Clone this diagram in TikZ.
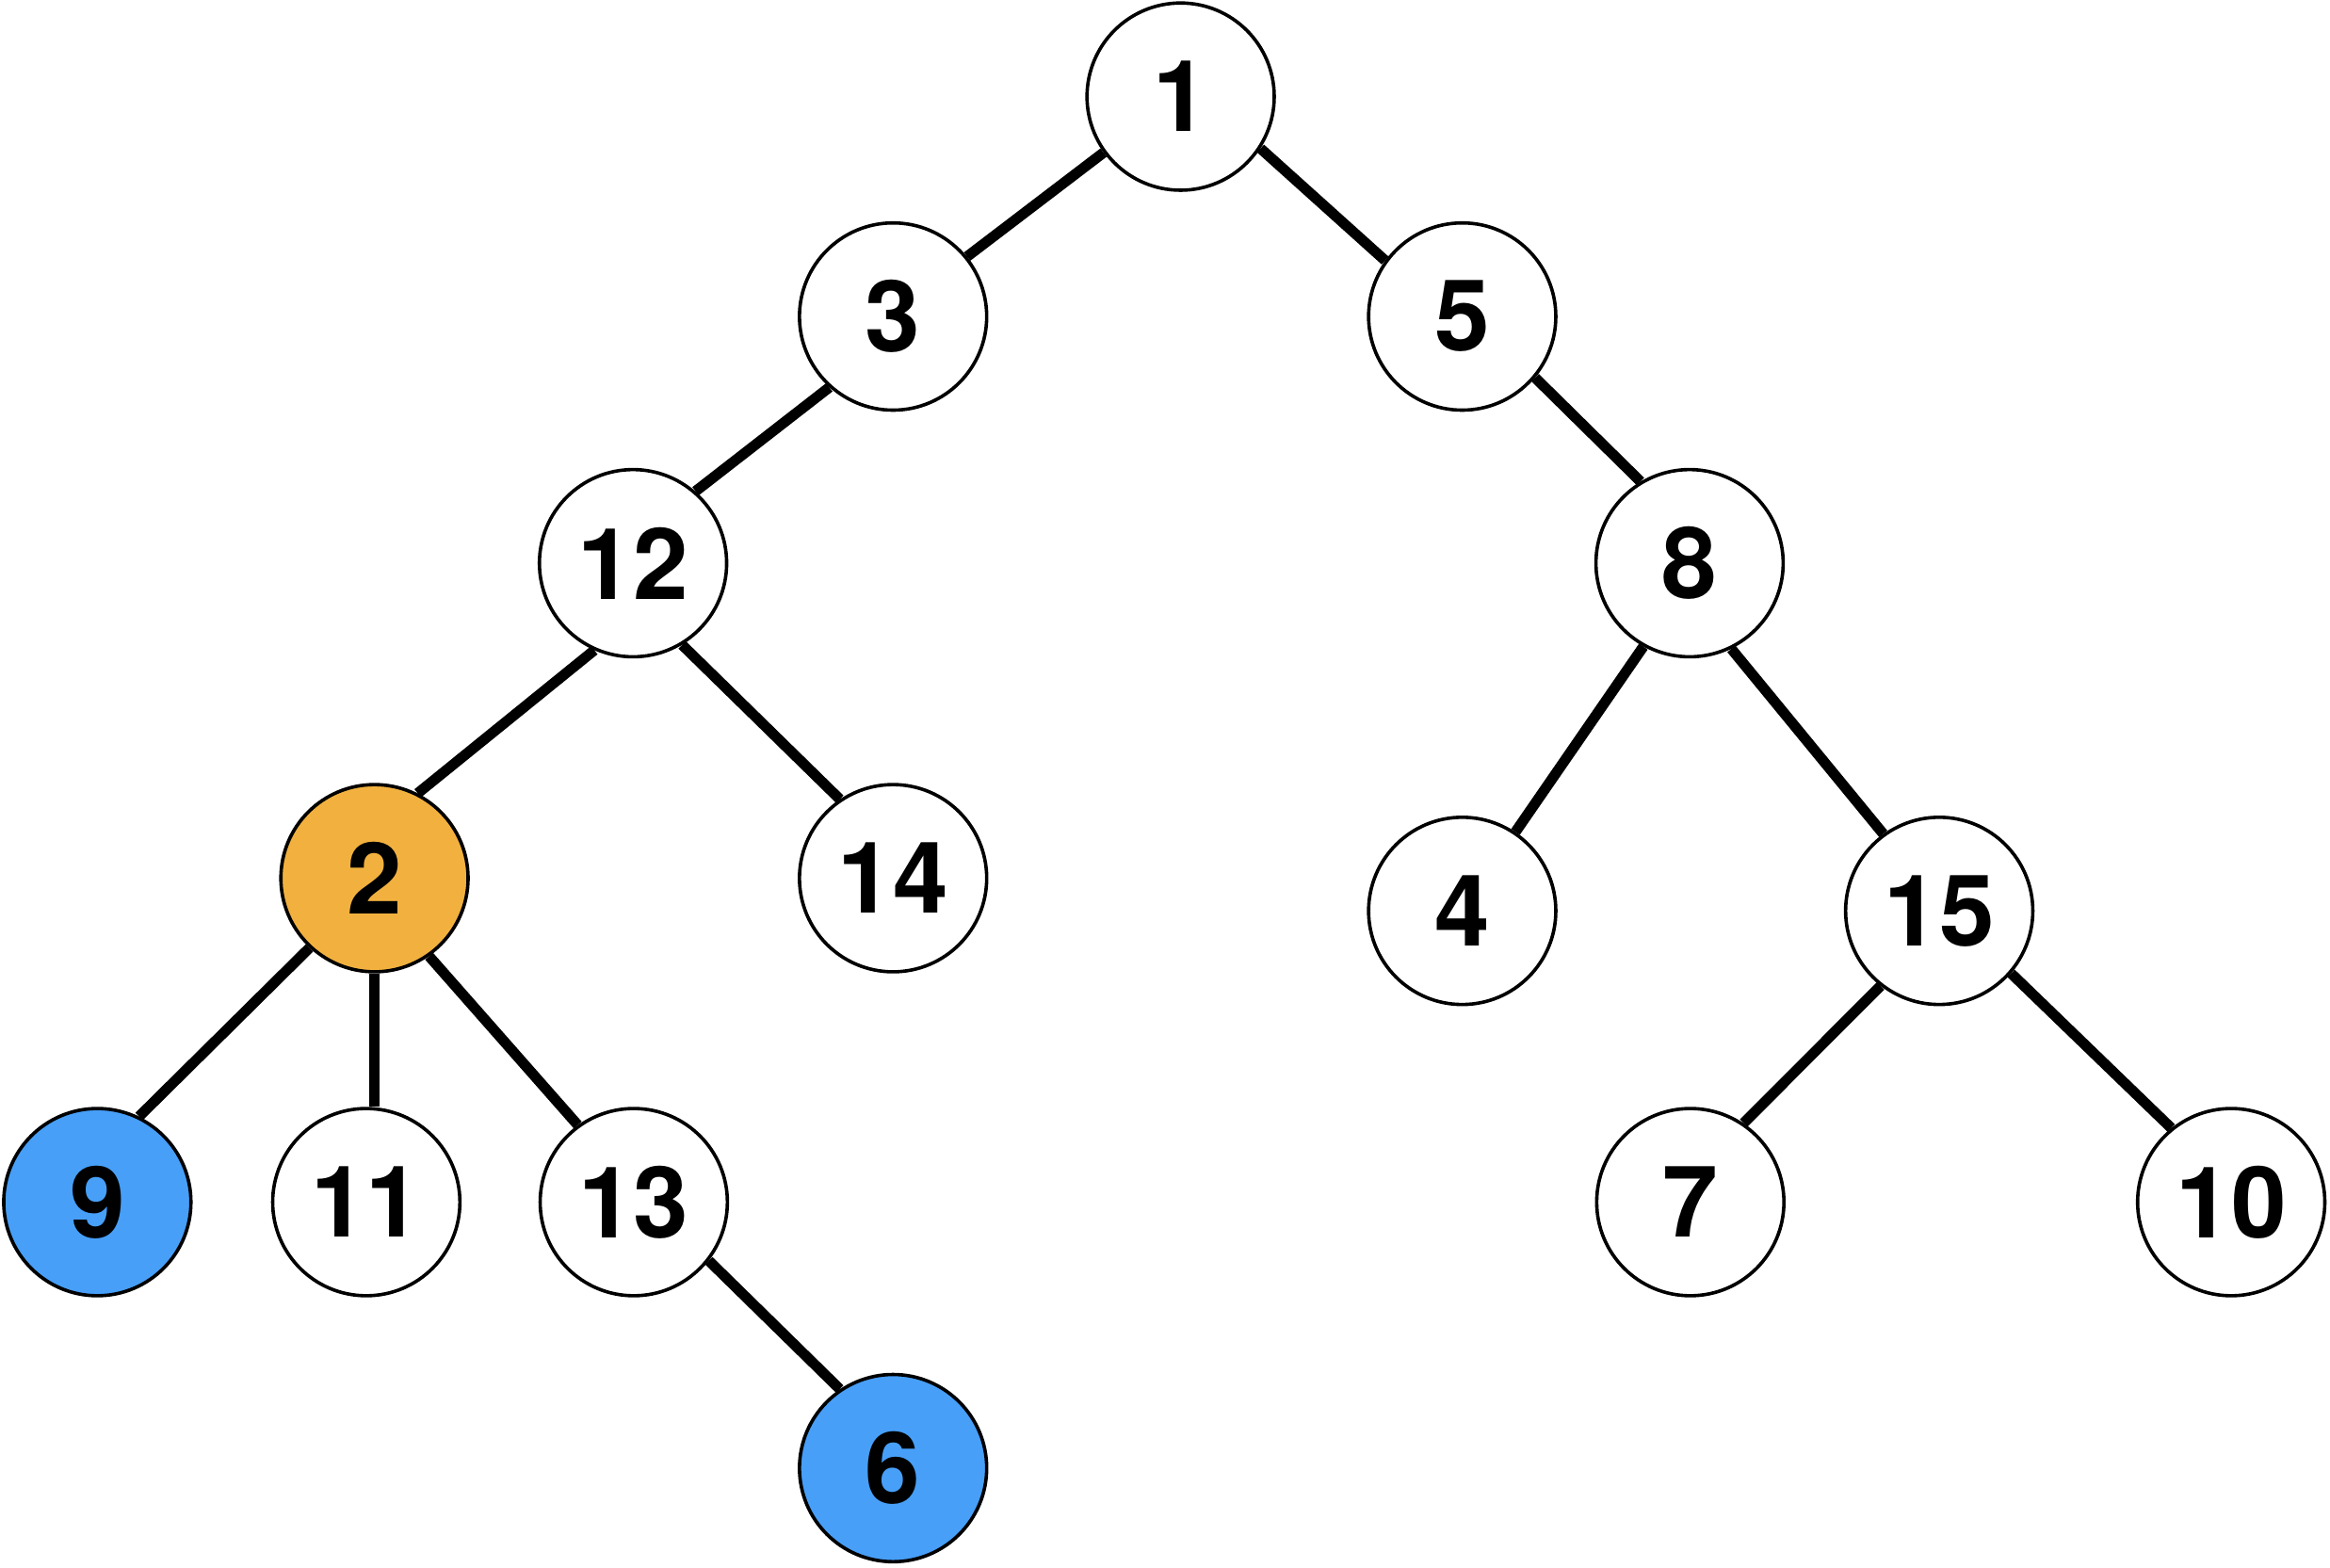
\documentclass[tikz,border=0pt]{standalone}
\usepackage{fontspec}
\setmainfont{TeX Gyre Heros}
\usetikzlibrary{positioning}
\definecolor{hlorange}{HTML}{F2B13F}
\definecolor{hlblue}{HTML}{479FF8}

\begin{document}
\begin{tikzpicture}[x=1cm, y=1cm]
		\tikzset{
			vtx/.style={circle, draw=black, line width=0.65pt, fill=white, minimum size=1.26cm, inner sep=0pt, font=\fontsize{19}{19}\selectfont\bfseries},
			link/.style={line width=2pt},
		}
		\useasboundingbox (0,0) rectangle (15.68,-10.55);
		
		\node[vtx] (n1) at (7.945,-0.65) {1};
		\node[vtx] (n3) at (6.01,-2.13) {3};
		\node[vtx] (n5) at (9.84,-2.13) {5};
		\node[vtx] (n12) at (4.26,-3.79) {12};
		\node[vtx] (n8) at (11.37,-3.79) {8};
		\node[vtx, fill=hlorange] (n2) at (2.52,-5.91) {2};
		\node[vtx] (n14) at (6.01,-5.91) {14};
		\node[vtx] (n4) at (9.84,-6.13) {4};
		\node[vtx] (n15) at (13.05,-6.13) {15};
		\node[vtx, fill=hlblue] (n9) at (0.655,-8.09) {9};
		\node[vtx] (n11) at (2.465,-8.09) {11};
		\node[vtx] (n13) at (4.265,-8.09) {13};
		\node[vtx] (n7) at (11.375,-8.09) {7};
		\node[vtx] (n10) at (15.015,-8.09) {10};
		\node[vtx, fill=hlblue] (n6) at (6.01,-9.88) {6};
		
		\draw[link] (n1.216.5) -- (n3.39);
		\draw[link] (n1.327.5) -- (n5.144);
		\draw[link] (n3.228.6) -- (n12.49);
		\draw[link] (n5.320) -- (n8.121.4);
		\draw[link] (n12.246.7) -- (n2.63.4);
		\draw[link] (n12.301) -- (n14.124);
		\draw[link] (n8.241.2) -- (n4.56.6);
		\draw[link] (n8.296.2) -- (n15.126.7);
		\draw[link] (n2.227.5) -- (n9.64.2);
		\draw[link] (n2.south) -- (n2.south |- n11.north);
		\draw[link] (n2.305.4) -- (n13.126);
		\draw[link] (n13.322) -- (n6.124);
		\draw[link] (n15.232.6) -- (n7.56);
		\draw[link] (n15.319.4) -- (n10.129.2);
	\end{tikzpicture}
\end{document}
